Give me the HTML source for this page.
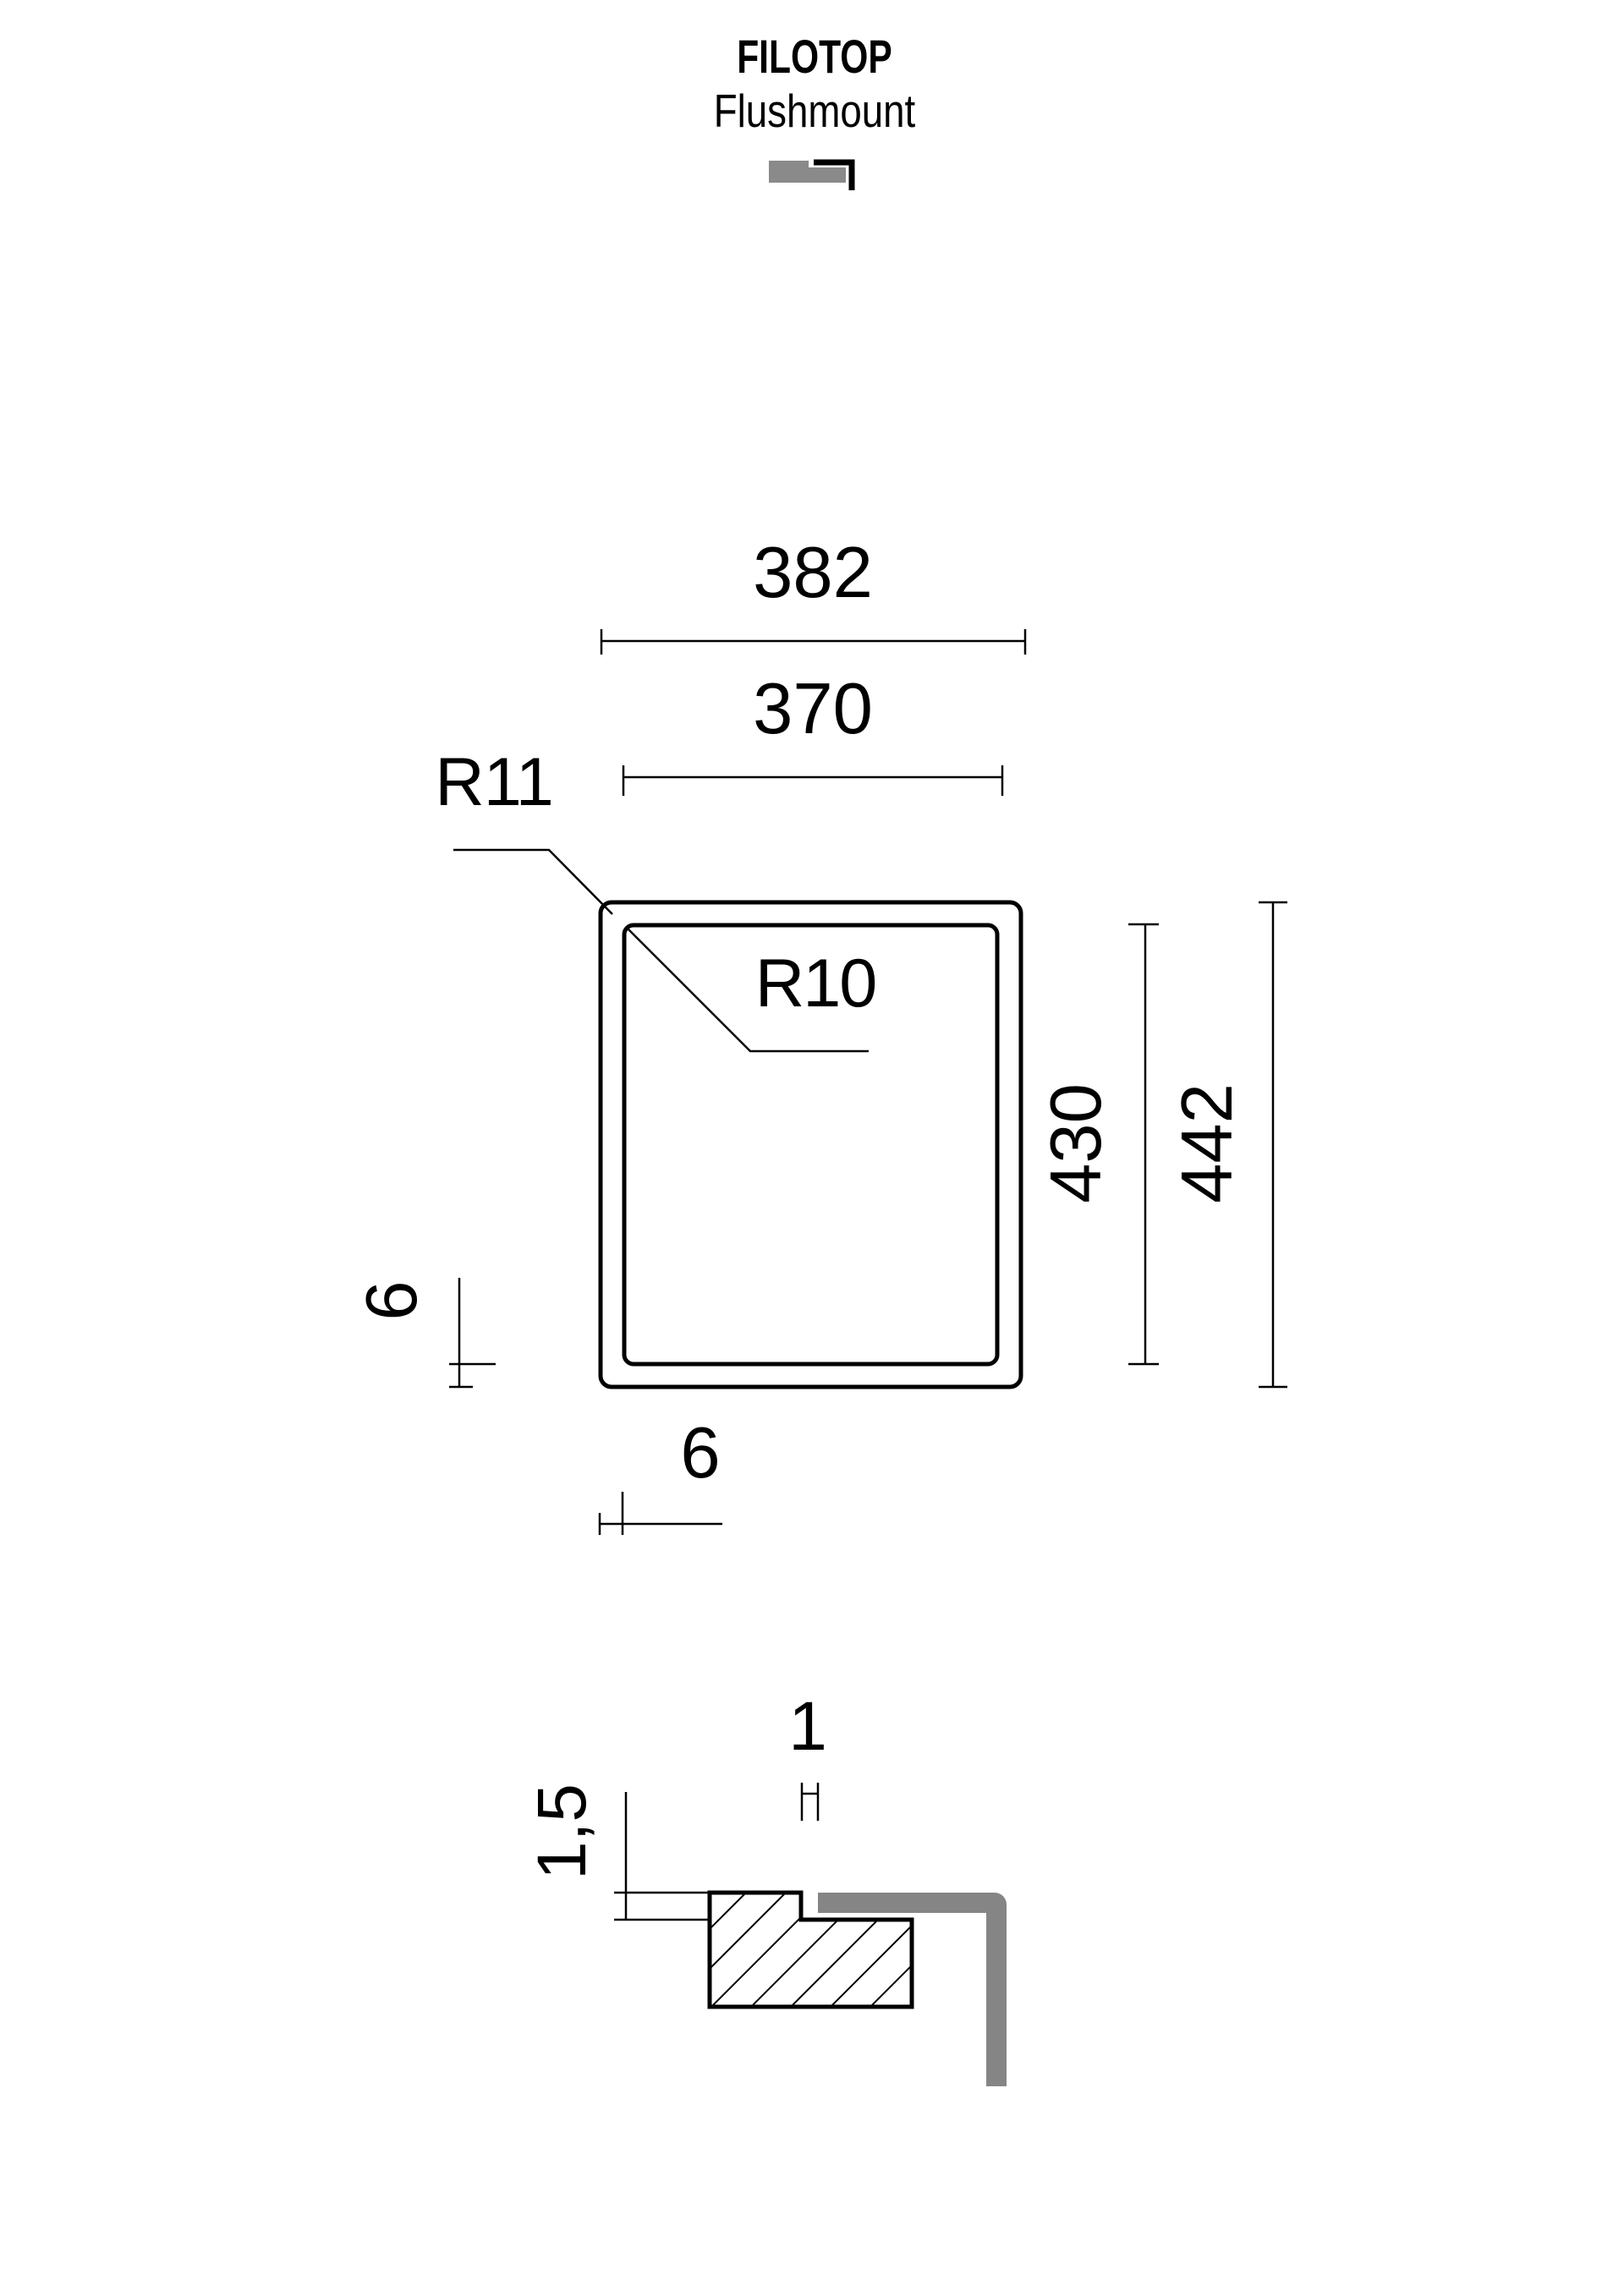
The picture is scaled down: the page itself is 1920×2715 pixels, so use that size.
<!DOCTYPE html>
<html><head><meta charset="utf-8"><style>
html,body{margin:0;padding:0;background:#fff;}
svg{display:block;}
text{font-family:"Liberation Sans",sans-serif;fill:#000;}
</style></head><body>
<svg width="1920" height="2715" viewBox="0 0 1920 2715" xmlns="http://www.w3.org/2000/svg">
<rect width="1920" height="2715" fill="#fff"/>
<!-- header -->
<text x="963" y="86" font-size="56" font-weight="bold" text-anchor="middle" transform="translate(963 0) scale(0.76 1) translate(-963 0)">FILOTOP</text>
<text x="963" y="150" font-size="55" text-anchor="middle" transform="translate(963 0) scale(0.83 1) translate(-963 0)">Flushmount</text>
<path d="M909 190 H956 V198 H1000 V216 H909 Z" fill="#8a8a8a"/>
<path d="M962 192 H1007 V225" fill="none" stroke="#000" stroke-width="7"/>

<!-- 382 -->
<text x="961" y="706" font-size="85" text-anchor="middle">382</text>
<g stroke="#000" stroke-width="2.5" fill="none">
<line x1="711" y1="758" x2="1212" y2="758"/>
<line x1="711" y1="744" x2="711" y2="774"/>
<line x1="1212" y1="744" x2="1212" y2="774"/>
</g>
<!-- 370 -->
<text x="961" y="867" font-size="85" text-anchor="middle">370</text>
<g stroke="#000" stroke-width="2.5" fill="none">
<line x1="737" y1="919" x2="1185" y2="919"/>
<line x1="737" y1="905" x2="737" y2="941"/>
<line x1="1185" y1="905" x2="1185" y2="941"/>
</g>
<!-- R11 -->
<text x="584" y="952" font-size="81" text-anchor="middle" letter-spacing="-1">R11</text>
<polyline points="536,1005 649,1005 724,1081" fill="none" stroke="#000" stroke-width="2.5"/>
<!-- rects -->
<rect x="710" y="1067" width="497" height="573" rx="13" fill="none" stroke="#000" stroke-width="5"/>
<rect x="738" y="1094" width="441" height="519" rx="11" fill="none" stroke="#000" stroke-width="5"/>
<!-- R10 -->
<text x="964" y="1190" font-size="81" text-anchor="middle" letter-spacing="-2">R10</text>
<polyline points="742,1098 887,1243 1027,1243" fill="none" stroke="#000" stroke-width="2.5"/>
<!-- 430 -->
<text x="0" y="0" font-size="85" text-anchor="middle" transform="translate(1301 1352) rotate(-90)">430</text>
<g stroke="#000" stroke-width="2.5" fill="none">
<line x1="1354" y1="1093" x2="1354" y2="1613"/>
<line x1="1334" y1="1093" x2="1370" y2="1093"/>
<line x1="1334" y1="1613" x2="1370" y2="1613"/>
</g>
<!-- 442 -->
<text x="0" y="0" font-size="85" text-anchor="middle" transform="translate(1456 1352) rotate(-90)">442</text>
<g stroke="#000" stroke-width="2.5" fill="none">
<line x1="1505" y1="1067" x2="1505" y2="1640"/>
<line x1="1488" y1="1067" x2="1522" y2="1067"/>
<line x1="1488" y1="1640" x2="1522" y2="1640"/>
</g>
<!-- 6 left -->
<text x="0" y="0" font-size="85" text-anchor="middle" transform="translate(492 1538) rotate(-90)">6</text>
<g stroke="#000" stroke-width="2.5" fill="none">
<line x1="543" y1="1511" x2="543" y2="1640"/>
<line x1="531" y1="1613" x2="586" y2="1613"/>
<line x1="531" y1="1640" x2="559" y2="1640"/>
</g>
<!-- 6 bottom -->
<text x="828" y="1747" font-size="85" text-anchor="middle">6</text>
<g stroke="#000" stroke-width="2.5" fill="none">
<line x1="709" y1="1802" x2="854" y2="1802"/>
<line x1="736" y1="1764" x2="736" y2="1815"/>
<line x1="709" y1="1789" x2="709" y2="1815"/>
</g>

<!-- section -->
<text x="955" y="2069" font-size="82" text-anchor="middle">1</text>
<g stroke="#000" stroke-width="2.5" fill="none">
<line x1="948" y1="2108" x2="948" y2="2153"/>
<line x1="967" y1="2108" x2="967" y2="2153"/>
<line x1="948" y1="2121" x2="967" y2="2121"/>
</g>
<text x="0" y="0" font-size="82" text-anchor="middle" transform="translate(692 2166) rotate(-90)">1,5</text>
<g stroke="#000" stroke-width="2.5" fill="none">
<line x1="740" y1="2119" x2="740" y2="2270"/>
<line x1="726" y1="2238" x2="839" y2="2238"/>
<line x1="726" y1="2270" x2="839" y2="2270"/>
</g>
<defs>
<clipPath id="hc"><path d="M839 2238 H947 V2270 H1078 V2373 H839 Z"/></clipPath>
</defs>
<g clip-path="url(#hc)" stroke="#000" stroke-width="2">
<line x1="650" y1="2423" x2="850" y2="2223"/>
<line x1="697" y1="2423" x2="897" y2="2223"/>
<line x1="744" y1="2423" x2="944" y2="2223"/>
<line x1="791" y1="2423" x2="991" y2="2223"/>
<line x1="838" y1="2423" x2="1038" y2="2223"/>
<line x1="885" y1="2423" x2="1085" y2="2223"/>
<line x1="932" y1="2423" x2="1132" y2="2223"/>
<line x1="979" y1="2423" x2="1179" y2="2223"/>
<line x1="1026" y1="2423" x2="1226" y2="2223"/>
</g>
<path d="M839 2238 H947 V2270 H1078 V2373 H839 Z" fill="none" stroke="#000" stroke-width="5"/>
<path d="M967 2238 H1176 A14 14 0 0 1 1190 2252 V2467 H1166 V2262 H967 Z" fill="#858585"/>
</svg>
</body></html>
